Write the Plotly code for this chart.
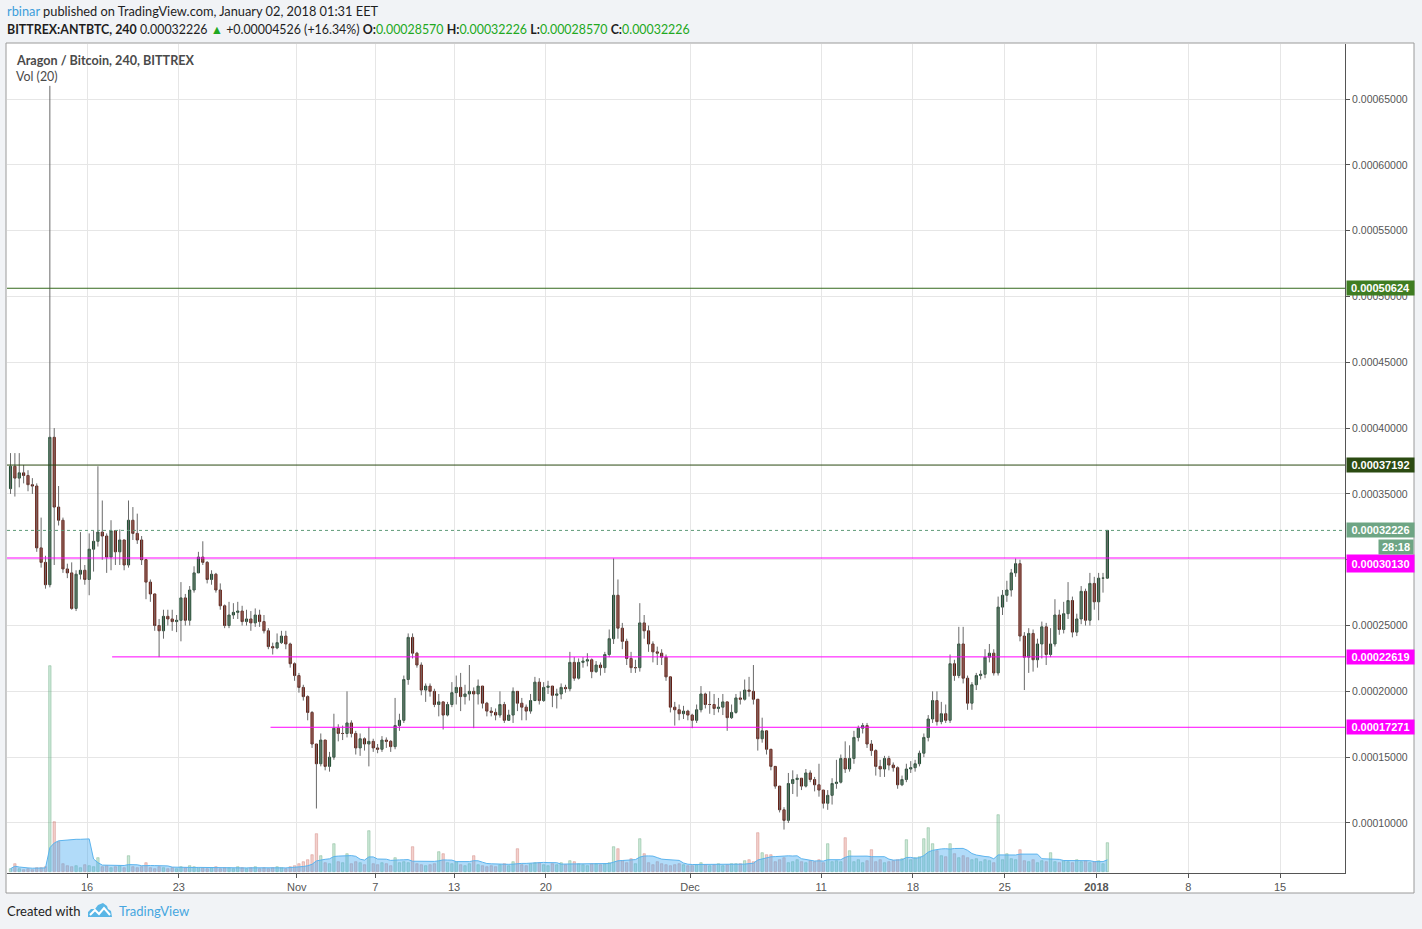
import pandas as pd
import plotly.graph_objects as go

# ANT/BTC, 8h candles; prices in units of 1e-6 BTC
start = "2017-10-10 04:00"
first_open = 354

closes = [
    371, 362, 366, 364, 357, 356, 309, 298, 281, 393,
    340, 330, 293, 290, 263, 289, 292, 285, 308, 314,
    321, 318, 302, 322, 306, 315, 296, 330, 320, 315,
    300, 283, 274, 250, 246, 257, 255, 253, 254, 271,
    254, 277, 290, 302, 298, 285, 289, 277, 265, 250,
    258, 260, 261, 253, 255, 252, 258, 253, 246, 234,
    233, 237, 242, 236, 221, 212, 203, 196, 184, 160,
    145, 163, 143, 150, 172, 168, 168, 176, 168, 157,
    164, 160, 162, 157, 156, 163, 162, 158, 174, 178,
    209, 241, 229, 220, 201, 204, 200, 190, 192, 182,
    190, 199, 203, 196, 198, 200, 198, 204, 191, 185,
    184, 182, 190, 178, 182, 200, 191, 188, 185, 193,
    207, 193, 203, 204, 197, 198, 203, 202, 222, 210,
    222, 223, 224, 215, 220, 218, 228, 240, 273, 248,
    238, 225, 218, 218, 252, 246, 236, 230, 229, 226,
    211, 188, 186, 183, 185, 182, 178, 186, 198, 190,
    190, 187, 188, 192, 180, 184, 195, 194, 201, 200,
    194, 164, 170, 156, 143, 128, 110, 102, 130, 133,
    134, 128, 138, 133, 129, 125, 115, 121, 130, 131,
    149, 141, 149, 165, 172, 174, 160, 155, 143, 141,
    149, 144, 142, 129, 133, 141, 142, 145, 153, 165,
    179, 193, 177, 183, 178, 221, 212, 236, 210, 191,
    205, 212, 213, 226, 229, 214, 264, 273, 277, 290,
    297, 242, 226, 244, 224, 236, 249, 228, 236, 258,
    247, 259, 269, 245, 255, 276, 254, 282, 268, 286,
    286, 322.26,
]
highs = [
    381, 381, 381, 372, 368, 362, 358, 332, 303, 660,
    400, 356, 332, 297, 298, 292, 321, 296, 320, 322,
    371, 345, 320, 330, 322, 323, 315, 345, 340, 335,
    318, 300, 285, 274, 255, 262, 262, 262, 258, 283,
    274, 280, 295, 306, 314, 299, 292, 290, 282, 266,
    268, 267, 268, 265, 262, 261, 263, 262, 258, 248,
    237, 244, 246, 246, 237, 222, 214, 205, 197, 185,
    160, 168, 163, 154, 183, 175, 174, 200, 178, 170,
    168, 165, 173, 164, 160, 166, 165, 163, 195, 183,
    212, 244, 244, 230, 222, 206, 206, 202, 198, 192,
    192, 207, 212, 214, 205, 220, 203, 209, 204, 192,
    188, 187, 200, 192, 186, 203, 200, 195, 190, 198,
    211, 210, 207, 208, 204, 202, 206, 205, 230, 226,
    225, 226, 229, 225, 223, 222, 230, 247, 301, 285,
    252, 240, 230, 224, 267, 258, 250, 238, 234, 232,
    228, 211, 192, 190, 189, 186, 183, 190, 204, 199,
    200, 198, 195, 198, 192, 190, 198, 200, 209, 211,
    220, 194, 180, 170, 156, 143, 128, 112, 138, 140,
    137, 134, 141, 140, 135, 145, 125, 125, 134, 148,
    152, 162, 159, 170, 174, 176, 176, 163, 156, 148,
    151, 151, 146, 143, 136, 145, 147, 148, 155, 168,
    182, 200, 200, 192, 190, 228, 224, 249, 249, 212,
    207, 214, 216, 232, 236, 232, 272, 277, 284, 293,
    301, 300, 245, 248, 247, 240, 253, 252, 248, 270,
    262, 268, 283, 272, 259, 280, 278, 290, 287, 290,
    290, 322.26,
]
lows = [
    350, 348, 355, 358, 352, 350, 306, 294, 278, 279,
    296, 326, 290, 286, 262, 261, 285, 281, 273, 291,
    310, 300, 290, 292, 296, 296, 292, 294, 315, 312,
    296, 270, 268, 246, 226, 240, 250, 246, 245, 238,
    250, 250, 275, 290, 296, 282, 281, 275, 262, 248,
    248, 255, 255, 250, 250, 246, 249, 249, 244, 232,
    228, 232, 236, 232, 218, 208, 199, 193, 178, 157,
    111, 143, 140, 139, 148, 162, 163, 165, 165, 152,
    151, 155, 143, 154, 153, 154, 157, 154, 156, 170,
    176, 205, 225, 218, 197, 192, 196, 188, 181, 171,
    181, 188, 190, 185, 190, 193, 172, 190, 187, 181,
    181, 178, 180, 176, 178, 176, 185, 178, 178, 183,
    194, 190, 192, 198, 188, 187, 194, 199, 200, 208,
    209, 218, 219, 210, 214, 212, 214, 226, 236, 240,
    232, 220, 214, 214, 215, 240, 230, 222, 220, 220,
    208, 184, 174, 178, 179, 178, 172, 176, 184, 187,
    183, 182, 184, 182, 170, 179, 183, 190, 193, 196,
    190, 155, 161, 152, 140, 126, 108, 95, 100, 122,
    120, 125, 127, 131, 124, 120, 111, 110, 114, 126,
    130, 138, 139, 145, 162, 168, 157, 151, 136, 135,
    135, 140, 139, 126, 128, 131, 138, 139, 143, 150,
    162, 176, 174, 175, 176, 176, 208, 210, 206, 186,
    186, 201, 209, 210, 222, 212, 212, 258, 268, 272,
    287, 238, 201, 214, 215, 218, 225, 220, 226, 234,
    243, 244, 255, 241, 242, 251, 250, 250, 262, 254,
    275, 285.70,
]
volumes = [
    3, 8, 3, 2, 3, 2, 4, 4, 5,
    206, 50, 30,
    8, 6, 5, 6, 4, 7, 6, 5, 14,
    5, 6, 4, 5, 6, 4, 16, 5, 4, 5,
    9, 4, 3, 5, 4, 3, 4, 3, 5, 4, 6, 5, 4,
    4, 3, 4, 5, 3, 4, 4, 3, 5, 4, 3, 4, 5, 3, 4, 3, 4, 5, 4, 3, 5, 6,
    8, 10, 12, 17, 38, 16, 9, 8, 28, 10, 9, 18, 8, 10, 9, 7, 41, 8, 7, 9, 8, 6, 14, 9,
    10, 9, 25, 8, 7, 6, 7, 8, 20, 18, 9, 8, 10, 7, 6, 8, 16, 7, 6, 5,
    6, 5, 7, 8, 6, 10, 23, 7, 6, 8, 9, 9, 7, 6, 8, 7, 9, 7, 11, 10,
    8, 7, 6, 8, 8, 7,
    8, 9, 25, 23, 11, 9, 13, 8, 33, 18, 9, 7, 10, 8, 7, 6, 7, 8, 7, 6,
    6, 7, 9, 7, 6, 7, 8, 6, 7, 8, 8, 8, 11, 12, 10, 39, 19, 17, 17, 10,
    12, 14, 9, 10, 12,
    10, 9, 11, 10, 12, 9, 28, 10, 11, 10, 34, 21, 10, 12, 9, 11, 22, 10, 12, 9,
    10, 11, 12, 13, 32, 12, 14, 15, 33, 44, 28, 21, 16, 15, 28, 18, 14, 16,
    14, 12, 13, 10, 12, 11, 9, 57, 12, 18, 13, 12, 22, 11, 10, 12, 9, 11, 10, 19,
    10, 9, 11, 10, 9, 12, 10, 11, 9, 10, 11, 8, 29,
]

levels = [506.24, 371.92, 301.30, 226.19, 172.71]
level_colors = ["#3f7d22", "#2b4a12", "#ff00ff", "#ff00ff", "#ff00ff"]
level_line_colors = ["#35691d", "#2b4a12", "#ff00ff", "#ff00ff", "#ff00ff"]
level_label_shift = [0, 0, -5, 0, 0]
level_label_height = [14, 14, 17, 14, 14]
level_starts = ["2017-10-09 21:30", "2017-10-09 21:30", "2017-10-09 21:30",
                "2017-10-17 22:00", "2017-10-30 00:00"]
last_price = 322.26
countdown = "28:18"

tick_dates = ["2017-10-16", "2017-10-23", "2017-11-01", "2017-11-07", "2017-11-13",
              "2017-11-20", "2017-12-01", "2017-12-11", "2017-12-18", "2017-12-25",
              "2018-01-01", "2018-01-08", "2018-01-15"]
tick_text = ["16", "23", "Nov", "7", "13", "20", "Dec", "11", "18", "25",
             "<b>2018</b>", "8", "15"]
price_ticks = [100, 150, 200, 250, 300, 350, 400, 450, 500, 550, 600, 650]

U = 1e-6
x_range = ["2017-10-09 21:33", "2018-01-19 23:00"]

times = pd.date_range(start, periods=len(closes), freq=pd.Timedelta(hours=8))
opens = [first_open] + closes[:-1]
up = [c >= o for o, c in zip(opens, closes)]

# wicks drawn in grey, bodies with dark outline
wx, wy = [], []
for t, o, h, l, c in zip(times, opens, highs, lows, closes):
    wx += [t, t, None]
    wy += [max(h, o, c) * U, min(l, o, c) * U, None]

vol_ma = pd.Series(volumes).rolling(10, min_periods=1).mean()

fig = go.Figure()
fig.add_trace(go.Bar(
    x=times, y=volumes, yaxis="y2", width=8 * 3600 * 1000 * 0.55,
    marker=dict(color=["rgba(106,190,140,0.35)" if u else "rgba(220,120,110,0.35)" for u in up],
                line=dict(color=["rgba(90,160,115,0.6)" if u else "rgba(200,110,100,0.6)" for u in up], width=0.6)),
    hoverinfo="skip"))
fig.add_trace(go.Scatter(
    x=times, y=vol_ma, yaxis="y2", mode="lines", fill="tozeroy",
    line=dict(color="#5cb4ee", width=1), fillcolor="rgba(70,170,240,0.42)", hoverinfo="skip"))
fig.add_trace(go.Scatter(x=wx, y=wy, mode="lines", line=dict(color="#6a6a6a", width=1), hoverinfo="skip"))
fig.add_trace(go.Candlestick(
    x=times,
    open=[o * U for o in opens], close=[c * U for c in closes],
    high=[max(o, c) * U for o, c in zip(opens, closes)],
    low=[min(o, c) * U for o, c in zip(opens, closes)],
    increasing=dict(fillcolor="#4a8c63", line=dict(color="#1f4a30", width=1)),
    decreasing=dict(fillcolor="#cc3e2a", line=dict(color="#5c1a10", width=1)),
    hoverinfo="skip"))

# pixel -> paper helpers
L, R, T, B = 7, 1345, 44, 873
def fx(px):
    return (px - L) / (R - L)
def fy(py):
    return (B - py) / (B - T)

shapes = [dict(type="rect", xref="paper", yref="paper", x0=fx(6), x1=fx(1414), y0=fy(893), y1=fy(43),
               fillcolor="white", line=dict(color="#9a9a9a", width=1), layer="below")]
for v, col, s in zip(levels, level_line_colors, level_starts):
    shapes.append(dict(type="line", xref="x", yref="y", x0=s, x1=x_range[1], y0=v * U, y1=v * U,
                       line=dict(color=col, width=1)))
shapes.append(dict(type="line", xref="x", yref="y", x0=x_range[0], x1=x_range[1],
                   y0=last_price * U, y1=last_price * U, line=dict(color="#5f9a78", width=1, dash="dot")))

# TradingView logo
cloud = [(88, 917), (88, 912), (91, 909), (95, 909), (98, 905), (103, 903), (107, 906),
         (108, 909), (111, 911), (112, 917)]
shapes.append(dict(type="path", xref="paper", yref="paper", fillcolor="#5ab6e6", line=dict(width=0),
                   path="M " + " L ".join(f"{fx(a)},{fy(b)}" for a, b in cloud) + " Z"))
zig = [(90, 915), (95, 910), (99, 914), (104, 908), (110, 915)]
shapes.append(dict(type="path", xref="paper", yref="paper", line=dict(color="white", width=2),
                   path="M " + " L ".join(f"{fx(a)},{fy(b)}" for a, b in zig)))

ann = []
def text(px, py, s, size=12.5, color="#1e1e1e"):
    ann.append(dict(xref="paper", yref="paper", x=fx(px), y=fy(py), text=s, showarrow=False,
                    xanchor="left", yanchor="middle", font=dict(family="Lato", size=size, color=color)))

g = "color:#21a821"
text(5, 11, "<span style='color:#3d9edb'>rbinar</span> published on TradingView.com, January 02, 2018 01:31 EET",
     size=12.8)
text(5, 29, "<b>BITTREX:ANTBTC, 240</b> 0.00032226 <span style='" + g + "'>▲</span> "
            "+0.00004526 (+16.34%) "
            "<b>O:</b><span style='" + g + "'>0.00028570</span> <b>H:</b><span style='" + g + "'>0.00032226</span> "
            "<b>L:</b><span style='" + g + "'>0.00028570</span> <b>C:</b><span style='" + g + "'>0.00032226</span>",
     size=12.4)
text(14, 60, "<b>Aragon / Bitcoin, 240, BITTREX</b>", size=12.6, color="#4a4a4a")
text(14, 77, "Vol (20)", size=12.4, color="#4a4a4a")
text(5, 911, "Created with", size=13)
text(117, 911, "TradingView", size=13, color="#45a6e0")

for v, col, sh, hh in zip(levels + [last_price], level_colors + ["#6ea584"],
                          level_label_shift + [0], level_label_height + [14]):
    ann.append(dict(xref="paper", yref="y", x=1, y=v * U, xanchor="left", yanchor="middle", xshift=1,
                    yshift=sh, text=f"<b>{v * U:.8f}</b>", showarrow=False, bgcolor=col, width=67,
                    height=hh, borderpad=0, font=dict(family="Liberation Sans", size=11, color="white")))
ann.append(dict(xref="paper", yref="y", x=fx(1414), y=last_price * U, xanchor="right", yanchor="middle",
                yshift=-17, text=f"<b>{countdown}</b>", showarrow=False, bgcolor="#6ea584", width=34,
                height=14, borderpad=0, font=dict(family="Liberation Sans", size=11, color="white")))

fig.update_layout(
    width=1422, height=929,
    margin=dict(l=L, r=1422 - R, t=T, b=929 - B),
    paper_bgcolor="#f1f3f6", plot_bgcolor="white",
    showlegend=False, hovermode=False,
    xaxis=dict(type="date", range=x_range, tickvals=tick_dates, ticktext=tick_text,
               showgrid=True, gridcolor="#e6e6e6", showline=True, linecolor="#555",
               ticks="outside", ticklen=4, tickcolor="#555", zeroline=False,
               tickfont=dict(family="Liberation Sans", size=11, color="#555"),
               rangeslider=dict(visible=False)),
    yaxis=dict(side="right", range=[62.0 * U, 691.8 * U], tickvals=[p * U for p in price_ticks],
               tickformat=".8f", showgrid=True, gridcolor="#e6e6e6", showline=True, linecolor="#555",
               ticks="outside", ticklen=4, tickcolor="#555", zeroline=False,
               tickfont=dict(family="Liberation Sans", size=10.5, color="#555")),
    yaxis2=dict(overlaying="y", range=[-1.3, 827.7], visible=False),
    shapes=shapes, annotations=ann,
)

fig.write_html("out.html", config={"displayModeBar": False},
               post_script="document.body.style.margin='0';")
